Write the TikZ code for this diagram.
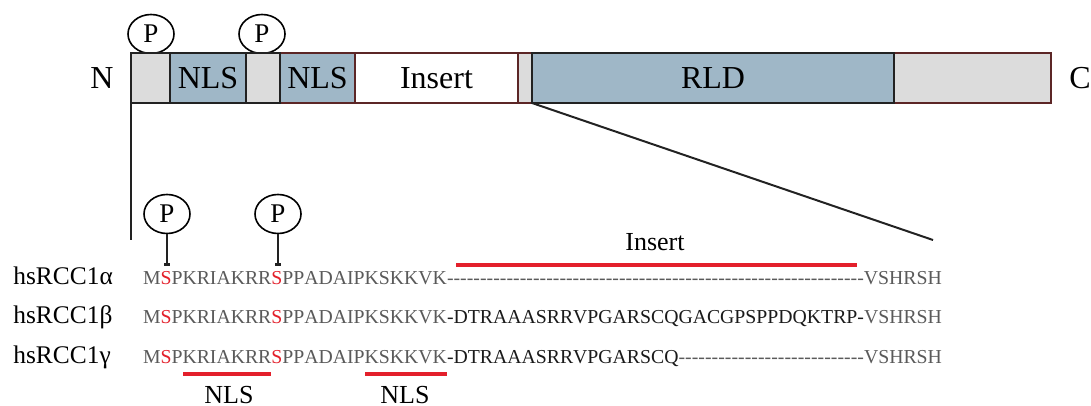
\documentclass[tikz,border=0pt]{standalone}
\usepackage{fontspec}
\setmainfont{Liberation Serif}
\newfontfamily\seqfam{Liberation Serif}[Kerning=Off]
\usetikzlibrary{shapes.geometric,arrows.meta}
\definecolor{segGrey}{HTML}{DCDCDC}
\definecolor{segBlue}{HTML}{9FB7C7}
\definecolor{edgeBrown}{HTML}{5C2626}
\definecolor{edgeDark}{HTML}{222222}
\definecolor{seqGrey}{HTML}{5A5A5A}
\definecolor{seqBlack}{HTML}{1A1A1A}
\definecolor{redS}{HTML}{E3202B}
\newcommand\pxu{0.5pt}
\newcommand\toplab{\fontsize{16}{19}\selectfont}
\newcommand\seqf{\seqfam\fontsize{9.875}{12}\selectfont}
\newcommand\gS{\textcolor{redS}{S}}
\newcommand\dashfill[1]{\makebox[#1]{\xleaders\hbox{-}\hfill}}
\tikzset{
  segbox/.style={draw, line width=1pt, inner sep=0pt, outer sep=0pt,
    minimum height=50*\pxu, font=\toplab},
  segw/.style={minimum width=#1*\pxu},
  pcirc/.style={ellipse, draw, line width=0.8pt, fill=white, inner sep=0pt,
    minimum width=46*\pxu, minimum height=39*\pxu,
    font=\fontsize{13.5}{16}\selectfont},
  conn/.style={draw=edgeDark, line width=1pt},
  stem/.style={draw=edgeDark, line width=0.8pt, -{Rectangle[length=1.6pt,width=3pt]}},
  seqtxt/.style={inner sep=0pt, outer sep=0pt, anchor=base west, font=\seqf},
  namelab/.style={inner sep=0pt, anchor=base west, font=\fontsize{12.7}{15}\selectfont},
  lowlab/.style={inner sep=0pt, anchor=base, font=\fontsize{13}{15}\selectfont},
  endlab/.style={inner sep=0pt, font=\toplab},
  redline/.style={draw=redS, line width=2pt}
}
\begin{document}
\begin{tikzpicture}[x=0.5pt,y=-0.5pt]
\useasboundingbox (0,0) rectangle (1091,406);
% phosphorylation marks above the bar
\node[pcirc] (pt1) at (151,34) {P};
\node[pcirc] (pt2) at (262,34) {P};
% domain bar: brown-edged segments first
\node[segbox, segw=75, draw=edgeBrown, fill=segBlue] (s4) at (317.5,78) {NLS};
\node[segbox, segw=163, draw=edgeBrown, fill=white] (s5) at (436.5,78) {Insert};
\node[segbox, segw=14, draw=edgeBrown, fill=segGrey] (s6) at (525,78) {};
\node[segbox, segw=157, draw=edgeBrown, fill=segGrey] (s8) at (972.5,78) {};
% dark-edged segments
\node[segbox, segw=39, draw=edgeDark, fill=segGrey] (s1) at (150.5,78) {};
\node[segbox, segw=76, draw=edgeDark, fill=segBlue] (s2) at (208,78) {NLS};
\node[segbox, segw=34, draw=edgeDark, fill=segGrey] (s3) at (263,78) {};
\node[segbox, segw=362, draw=edgeDark, fill=segBlue] (s7) at (713,78) {RLD};
\node[endlab] (nterm) at (102,78) {N};
\node[endlab] (cterm) at (1080,78) {C};
% zoom lines
\coordinate (vend) at (131,240);
\coordinate (dend) at (933,240);
\draw[conn] (s1.south west) -- (vend);
\draw[conn] (s7.south west) -- (dend);
% lower phosphorylation marks
\node[pcirc] (pa1) at (167,214) {P};
\node[pcirc] (pa2) at (278,214) {P};
\coordinate (sa1) at (167,266);
\coordinate (sa2) at (278,266);
\draw[stem] (pa1.south) -- (sa1);
\draw[stem] (pa2.south) -- (sa2);
% Insert label
\node[lowlab] (inslab) at (655,250) {Insert};
\draw[redline] (456,265) -- (857,265);
% names
\node[namelab] (na) at (13,284) {hsRCC1α};
\node[namelab] (nb) at (13,323) {hsRCC1β};
\node[namelab] (ng) at (13,363) {hsRCC1γ};
% sequences
\node[seqtxt] (qa) at (143,284) {\color{seqGrey}M\gS PKRIAKRR\gS PPADAIPKSKKVK\dashfill{21.113em}VSHRSH};
\node[seqtxt] (qb) at (143,323) {{\color{seqGrey}M\gS PKRIAKRR\gS PPADAIPKSKKVK}{\color{seqBlack}-DTRAAASRRVPGARSCQGACGPSPPDQKTRP-}{\color{seqGrey}VSHRSH}};
\node[seqtxt] (qg) at (143,363) {{\color{seqGrey}M\gS PKRIAKRR\gS PPADAIPKSKKVK}{\color{seqBlack}-DTRAAASRRVPGARSCQ}{\color{seqGrey}\dashfill{9.39em}VSHRSH}};
% NLS marks
\draw[redline] (183,374) -- (271,374);
\draw[redline] (365,374) -- (447,374);
\node[lowlab] (nls1) at (229,403) {NLS};
\node[lowlab] (nls2) at (405,403) {NLS};
\end{tikzpicture}
\end{document}
